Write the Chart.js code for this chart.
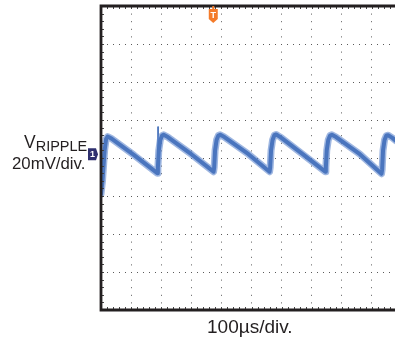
<!DOCTYPE html>
<html>
<head>
<meta charset="utf-8">
<script src="https://cdn.jsdelivr.net/npm/chart.js@4/dist/chart.umd.min.js"></script>
<style>
  html, body { margin: 0; padding: 0; background: #fff; overflow: hidden; }
  #wrap { position: absolute; left: 0; top: 0; width: 420px; height: 344px; }
  .lbl { position: absolute; font-family: "Liberation Sans", Arial, sans-serif; color: #231f20; white-space: nowrap; }
  #vname { left: 24px; top: 132px; font-size: 17.5px; }
  #vname sub { font-size: 14.5px; vertical-align: -3px; }
  #vdiv { left: 12px; top: 154px; font-size: 16.8px; }
  #hdiv { left: 207px; top: 316px; font-size: 19px; }
</style>
</head>
<body>
<div id="wrap"><canvas id="scope"></canvas></div>
<div class="lbl" id="vname">V<sub>RIPPLE</sub></div>
<div class="lbl" id="vdiv">20mV/div.</div>
<div class="lbl" id="hdiv">100µs/div.</div>
<script>
// time base: 100 us/div, 10 divisions; vertical: 20 mV/div, 8 divisions
const timeUs = [0, 5, 12, 17, 22, 35, 110, 187,
  189, 192, 197, 203, 208, 222, 300, 374,
  376, 379, 384, 390, 396, 410, 490, 560,
  562, 565, 570, 576, 582, 596, 670, 745,
  747, 750, 755, 761, 767, 781, 860, 932,
  934, 937, 942, 948, 954, 968, 980];
const rippleMv = [-19, -12, 4, 10, 11.3, 10.2, 1.5, -8.0,
  -5, 4, 9.5, 11.8, 12.2, 11, 2, -7.2,
  -5, 4, 9.5, 11.8, 12.2, 11, 2, -7.2,
  -5, 4, 9.5, 12, 12.4, 11, 2, -7.2,
  -5, 4, 9.5, 11.8, 12.2, 11, 2, -8.3,
  -6, 4, 9.5, 11.8, 12, 10.6, 9];
// narrow switching spike on the first falling edge
const spikeUs = [189, 189.5, 190];
const spikeMv = [-7, 16.5, -5];

const xTicks = { min: 0, max: 1000, step: 100 };
const yTicks = { min: -80, max: 80, step: 20 };
const triggerUs = 373;
const ch1MarkerMv = 2;

const toPoints = (xs, ys) => xs.map((x, i) => ({ x, y: ys[i] }));
const trace = toPoints(timeUs, rippleMv);

// frame, minor ticks and the trigger / channel markers
const scopeDecor = {
  id: 'scopeDecor',
  afterDatasetsDraw(chart) {
    const { ctx, chartArea: a, scales } = chart;
    const xs = scales.x, ys = scales.y;
    ctx.save();
    ctx.fillStyle = '#444';
    const xMinor = xTicks.step / 5, yMinor = yTicks.step / 5;
    for (let v = xTicks.min; v <= xTicks.max; v += xMinor) {
      const px = Math.round(xs.getPixelForValue(v));
      ctx.fillRect(px, a.top, 1, 3);
      ctx.fillRect(px, a.bottom - 3, 1, 3);
    }
    for (let v = yTicks.min; v <= yTicks.max; v += yMinor) {
      const py = Math.round(ys.getPixelForValue(v));
      ctx.fillRect(a.left, py, 3, 1);
    }
    ctx.strokeStyle = '#231f20';
    ctx.lineWidth = 2.8;
    ctx.beginPath();
    ctx.moveTo(a.right + 10, a.top);
    ctx.lineTo(a.left, a.top);
    ctx.lineTo(a.left, a.bottom);
    ctx.lineTo(a.right + 10, a.bottom);
    ctx.stroke();

    // trigger marker
    const tx = xs.getPixelForValue(triggerUs);
    ctx.fillStyle = '#f47b2a';
    ctx.fillRect(tx - 1, a.top, 2, 3);
    ctx.beginPath();
    ctx.moveTo(tx - 4.5, a.top + 3);
    ctx.lineTo(tx + 4.5, a.top + 3);
    ctx.lineTo(tx + 4.5, a.top + 13);
    ctx.lineTo(tx, a.top + 17);
    ctx.lineTo(tx - 4.5, a.top + 13);
    ctx.closePath();
    ctx.fill();
    ctx.fillStyle = '#fff';
    ctx.font = 'bold 9px "Liberation Sans", Arial, sans-serif';
    ctx.textAlign = 'center';
    ctx.textBaseline = 'middle';
    ctx.fillText('T', tx, a.top + 9.5);

    // channel 1 ground marker
    const gy = ys.getPixelForValue(ch1MarkerMv);
    ctx.fillStyle = '#2e2f6e';
    ctx.beginPath();
    ctx.moveTo(a.left - 13, gy - 6);
    ctx.lineTo(a.left - 5, gy - 6);
    ctx.lineTo(a.left - 3, gy);
    ctx.lineTo(a.left - 5, gy + 6);
    ctx.lineTo(a.left - 13, gy + 6);
    ctx.closePath();
    ctx.fill();
    ctx.fillStyle = '#fff';
    ctx.fillText('1', a.left - 8.5, gy + 0.5);
    ctx.restore();
  }
};

new Chart(document.getElementById('scope'), {
  type: 'line',
  data: {
    datasets: [
      { data: trace, borderColor: 'rgba(95,135,205,0.6)', borderWidth: 7 },
      { data: trace, borderColor: '#2b5aa7', borderWidth: 4 },
      { data: toPoints(spikeUs, spikeMv), borderColor: '#4f78bd', borderWidth: 1 }
    ]
  },
  options: {
    responsive: true,
    maintainAspectRatio: false,
    animation: false,
    events: [],
    layout: { padding: { left: 101, top: 6, right: 18, bottom: 34 } },
    elements: { point: { radius: 0 }, line: { tension: 0, borderJoinStyle: 'round', borderCapStyle: 'round' } },
    plugins: { legend: { display: false }, tooltip: { enabled: false } },
    scales: {
      x: {
        type: 'linear', min: xTicks.min, max: xTicks.max,
        ticks: { display: false, stepSize: xTicks.step },
        grid: { color: '#5a5a5a', lineWidth: 1, drawTicks: false },
        border: { display: false, dash: [1, 6.6] }
      },
      y: {
        min: yTicks.min, max: yTicks.max,
        ticks: { display: false, stepSize: yTicks.step },
        grid: { color: '#5a5a5a', lineWidth: 1, drawTicks: false },
        border: { display: false, dash: [1, 5] }
      }
    }
  },
  plugins: [scopeDecor]
});
</script>
</body>
</html>
